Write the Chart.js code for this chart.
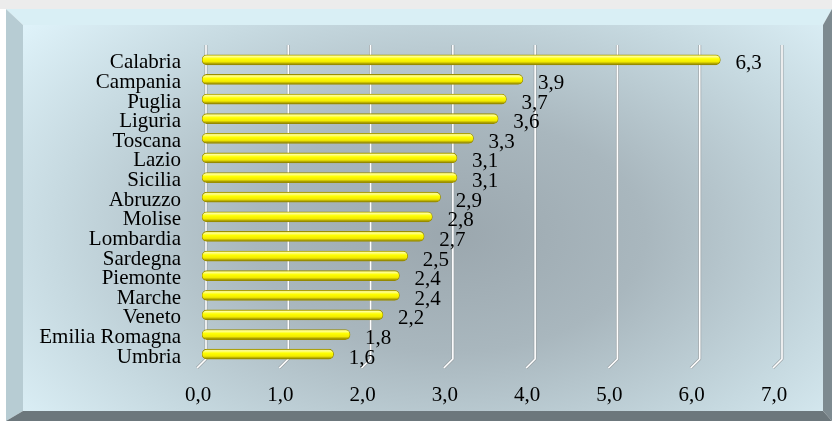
<!DOCTYPE html>
<html>
<head>
<meta charset="utf-8">
<script src="https://cdn.jsdelivr.net/npm/chart.js@4"></script>
<style>
  html, body { margin: 0; padding: 0; background: #ffffff; }
  #wrap { width: 832px; height: 421px; }
</style>
</head>
<body>
<div id="wrap"><canvas id="c" width="832" height="421"></canvas></div>
<script>
const regions = ['Calabria','Campania','Puglia','Liguria','Toscana','Lazio','Sicilia','Abruzzo','Molise','Lombardia','Sardegna','Piemonte','Marche','Veneto','Emilia Romagna','Umbria'];
const values = [6.3, 3.9, 3.7, 3.6, 3.3, 3.1, 3.1, 2.9, 2.8, 2.7, 2.5, 2.4, 2.4, 2.2, 1.8, 1.6];
const xTicks = [0, 1, 2, 3, 4, 5, 6, 7];

const FONT = "'Liberation Serif', 'Times New Roman', serif";
const fmt = v => Number(v).toFixed(1).replace('.', ',');

const framePlugin = {
  id: 'frame',
  beforeDraw(chart) {
    const ctx = chart.ctx;
    const W = chart.width, H = chart.height;
    ctx.save();
    ctx.fillStyle = '#ffffff';
    ctx.fillRect(0, 0, W, H);
    ctx.fillStyle = '#ececec';
    ctx.fillRect(0, 0, W, 9);
    const L = 6, T = 9, R = W, B = H;
    const iL = 23, iT = 25, iR = 823, iB = 411;
    ctx.fillStyle = '#d9eff5';
    ctx.beginPath(); ctx.moveTo(L, T); ctx.lineTo(R, T); ctx.lineTo(iR, iT); ctx.lineTo(iL, iT); ctx.closePath(); ctx.fill();
    ctx.fillStyle = '#b7ccd3';
    ctx.beginPath(); ctx.moveTo(L, T); ctx.lineTo(iL, iT); ctx.lineTo(iL, iB); ctx.lineTo(L, B); ctx.closePath(); ctx.fill();
    ctx.fillStyle = '#7d8a90';
    ctx.beginPath(); ctx.moveTo(R, T); ctx.lineTo(R, B); ctx.lineTo(iR, iB); ctx.lineTo(iR, iT); ctx.closePath(); ctx.fill();
    ctx.fillStyle = '#6c777c';
    ctx.beginPath(); ctx.moveTo(L, B); ctx.lineTo(iL, iB); ctx.lineTo(iR, iB); ctx.lineTo(R, B); ctx.closePath(); ctx.fill();
    ctx.save();
    ctx.beginPath(); ctx.rect(iL, iT, iR - iL, iB - iT); ctx.clip();
    const cx = 450, cy = 235, sy = 0.6;
    ctx.translate(cx, cy);
    ctx.scale(1, sy);
    const g = ctx.createRadialGradient(0, 0, 0, 0, 0, 560);
    g.addColorStop(0, '#9ba7ae');
    g.addColorStop(0.35, '#a9b7be');
    g.addColorStop(0.7, '#c6d9e0');
    g.addColorStop(1, '#e0f4fb');
    ctx.fillStyle = g;
    ctx.fillRect(-cx, -cy / sy, W, H / sy);
    ctx.restore();
    ctx.restore();
  },
  beforeDatasetsDraw(chart) {
    const ctx = chart.ctx;
    const xs = chart.scales.x;
    const a = chart.chartArea;
    ctx.save();
    xTicks.forEach(v => {
      const px = xs.getPixelForValue(v);
      const top = a.top - 5, vb = a.bottom - 5, sb = a.bottom + 4;
      const bx = px + 4, fx = px - 5;
      ctx.lineJoin = 'round';
      ctx.strokeStyle = '#9aa2a6';
      ctx.lineWidth = 3;
      ctx.beginPath(); ctx.moveTo(bx, top); ctx.lineTo(bx, vb); ctx.lineTo(fx, sb); ctx.stroke();
      ctx.strokeStyle = '#ffffff';
      ctx.lineWidth = 1.6;
      ctx.beginPath(); ctx.moveTo(bx, top); ctx.lineTo(bx, vb); ctx.lineTo(fx, sb); ctx.stroke();
    });
    ctx.restore();
  },
  afterDatasetsDraw(chart) {
    const ctx = chart.ctx;
    const meta = chart.getDatasetMeta(0);
    ctx.save();
    ctx.font = '21px ' + FONT;
    ctx.fillStyle = '#000000';
    ctx.textAlign = 'left';
    ctx.textBaseline = 'middle';
    meta.data.forEach((el, i) => {
      ctx.fillText(fmt(values[i]), el.x + 15, el.y + 4);
    });
    ctx.restore();
  }
};

function barFill(c) {
  const ys = c.chart.scales.y;
  if (!ys || c.dataIndex === undefined) return '#ffff00';
  const py = ys.getPixelForValue(c.dataIndex);
  if (!isFinite(py)) return '#ffff00';
  const g = c.chart.ctx.createLinearGradient(0, py - 5, 0, py + 5);
  g.addColorStop(0, '#d8d020');
  g.addColorStop(0.15, '#ffff9a');
  g.addColorStop(0.4, '#ffff00');
  g.addColorStop(0.7, '#f2ea00');
  g.addColorStop(1, '#807400');
  return g;
}

new Chart(document.getElementById('c'), {
  type: 'bar',
  data: {
    labels: regions,
    datasets: [{
      data: values,
      barThickness: 10,
      borderRadius: 5,
      borderSkipped: false,
      borderWidth: 0.8,
      borderColor: '#9a8e00',
      backgroundColor: barFill
    }]
  },
  options: {
    indexAxis: 'y',
    responsive: false,
    animation: false,
    events: [],
    layout: { padding: { left: 0, right: 54, top: 50, bottom: 0 } },
    plugins: { legend: { display: false }, tooltip: { enabled: false } },
    scales: {
      x: {
        min: 0, max: 7,
        afterBuildTicks: s => { s.ticks = xTicks.map(v => ({ value: v })); },
        afterFit: s => { s.height = 57; },
        grid: { display: false, drawTicks: false },
        border: { display: false },
        ticks: {
          padding: 19,
          labelOffset: -4,
          color: '#000000',
          font: { family: FONT, size: 21 },
          callback: v => fmt(v)
        }
      },
      y: {
        afterFit: s => { s.width = 202; },
        grid: { display: false, drawTicks: false },
        border: { display: false },
        ticks: {
          padding: 21,
          labelOffset: 3,
          color: '#000000',
          font: { family: FONT, size: 21 },
          autoSkip: false
        }
      }
    }
  },
  plugins: [framePlugin]
});
</script>
</body>
</html>
